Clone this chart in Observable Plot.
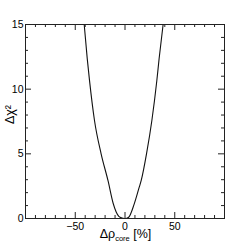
<!DOCTYPE html>
<html>
<head>
<meta charset="utf-8">
<script src="https://cdn.jsdelivr.net/npm/d3@7"></script>
<script src="https://cdn.jsdelivr.net/npm/@observablehq/plot@0.6"></script>
<style>
  html, body { margin: 0; padding: 0; background: #fff; }
  #chart svg { display: block; }
</style>
</head>
<body>
<div id="chart"></div>
<script>
// Scan of Δχ² versus Δρ_core [%]
const drho  = [-41, -38, -35.7, -30.7, -24, -17, -12, -6, -2, 0, 3.7, 9.3, 14.3, 16.3, 21.7, 27, 32, 34.3, 38.3];
const dchi2 = [15, 12.4, 10.7, 7.6, 5.0, 2.9, 1.2, 0.15, 0.02, 0, 0.1, 1.13, 2.42, 2.94, 5.03, 7.58, 10.67, 12.37, 15];

const xDomain = [-100, 100];
const yDomain = [0, 15];
const xMajor = [-50, 0, 50];
const yMajor = [0, 5, 10, 15];
const xMinor = d3.range(-90, 100, 10);
const yMinor = d3.range(1, 15, 1);
const xTitleMain = "Δρ";
const xTitleSub = "core";
const xTitleUnit = " [%]";
const yTitle = "Δχ²";

const W = 249, H = 243;
const mL = 25, mR = 25, mT = 24, mB = 25;
const pxX = (W - mL - mR) / (xDomain[1] - xDomain[0]); // px per x unit
const pxY = (H - mT - mB) / (yDomain[1] - yDomain[0]); // px per y unit
const majLen = 6, minLen = 3;

const curve = drho.map((d, i) => ({x: d, y: dchi2[i]}));
const xMajT = xMajor.filter(v => v > xDomain[0] && v < xDomain[1]);
const yMajT = yMajor.filter(v => v > yDomain[0] && v < yDomain[1]);
const xMinT = xMinor.filter(v => !xMajor.includes(v));
const yMinT = yMinor.filter(v => !yMajor.includes(v));
const tickColor = "#222";
const font = "'Liberation Sans', Arial, sans-serif";

const plot = Plot.plot({
  width: W, height: H,
  marginLeft: mL, marginRight: mR, marginTop: mT, marginBottom: mB,
  x: {domain: xDomain},
  y: {domain: yDomain},
  style: {fontFamily: font, fontSize: "10.5px", color: "#000", background: "#fff"},
  marks: [
    Plot.ruleX(xMajT, {y1: 0, y2: majLen / pxY, stroke: tickColor}),
    Plot.ruleX(xMinT, {y1: 0, y2: minLen / pxY, stroke: tickColor}),
    Plot.ruleX(xMajT, {y1: 15, y2: 15 - majLen / pxY, stroke: tickColor}),
    Plot.ruleX(xMinT, {y1: 15, y2: 15 - minLen / pxY, stroke: tickColor}),
    Plot.ruleY(yMajT, {x1: xDomain[0], x2: xDomain[0] + majLen / pxX, stroke: tickColor}),
    Plot.ruleY(yMinT, {x1: xDomain[0], x2: xDomain[0] + minLen / pxX, stroke: tickColor}),
    Plot.ruleY(yMajT, {x1: xDomain[1], x2: xDomain[1] - majLen / pxX, stroke: tickColor}),
    Plot.ruleY(yMinT, {x1: xDomain[1], x2: xDomain[1] - minLen / pxX, stroke: tickColor}),
    Plot.line(curve, {x: "x", y: "y", curve: "monotone-x", stroke: "#111", strokeWidth: 1.1, clip: true}),
    Plot.frame({stroke: tickColor}),
    Plot.axisX(xMajor, {tickSize: 0, tickPadding: 4, label: null, fontSize: 10.5}),
    Plot.axisY(yMajor, {tickSize: 0, tickPadding: 2, label: null, fontSize: 10.5})
  ]
});

document.getElementById("chart").appendChild(plot);

const svg = d3.select(plot);
const sx = plot.scale("x"), sy = plot.scale("y");
const xt = svg.append("text")
  .attr("x", sx.apply(0) + 1)
  .attr("y", 238)
  .attr("text-anchor", "middle")
  .attr("font-family", font)
  .attr("font-size", 12.5)
  .attr("fill", "#000");
xt.append("tspan").text(xTitleMain);
xt.append("tspan").attr("font-size", 7.5).attr("dy", 3).text(xTitleSub);
xt.append("tspan").attr("dy", -3).text(xTitleUnit);

svg.append("text")
  .attr("transform", `translate(14, ${sy.apply(8)}) rotate(-90)`)
  .attr("text-anchor", "middle")
  .attr("font-family", font)
  .attr("font-size", 12.5)
  .attr("fill", "#000")
  .text(yTitle);
</script>
</body>
</html>
